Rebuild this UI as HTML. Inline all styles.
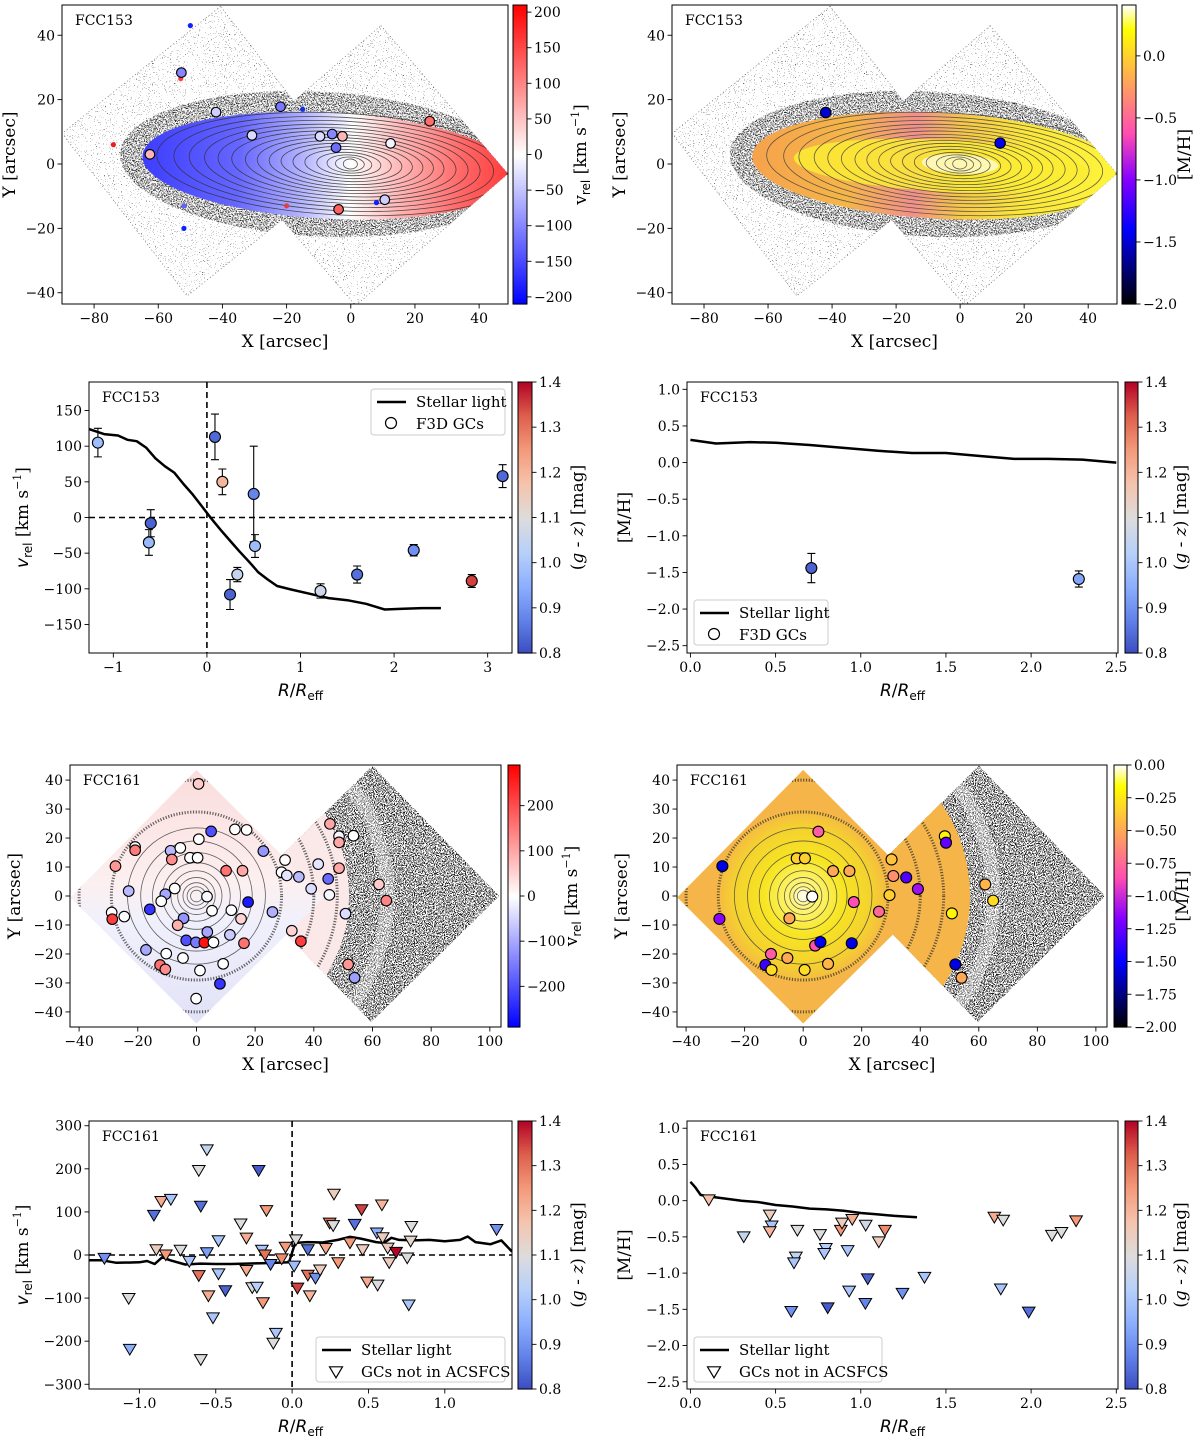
<!DOCTYPE html>
<html><head><meta charset="utf-8"><title>FCC153 / FCC161 GC kinematics</title>
<style>
html,body{margin:0;padding:0;background:#fff;}
svg{display:block;font-family:"DejaVu Serif","Liberation Serif",serif;}
</style></head>
<body>
<svg id="fig" xmlns="http://www.w3.org/2000/svg" width="1200" height="1439" viewBox="0 0 1200 1439">
<defs id="defs">
<filter id="spk-sparse" x="0" y="0" width="1" height="1" color-interpolation-filters="sRGB">
<feTurbulence type="fractalNoise" baseFrequency="0.9" numOctaves="2" seed="4"/>
<feColorMatrix type="matrix" values="0 0 0 0 0.2  0 0 0 0 0.2  0 0 0 0 0.2  -20 0 0 0 6.0"/>
<feComposite in2="SourceAlpha" operator="in"/></filter>
<filter id="spk-mid" x="0" y="0" width="1" height="1" color-interpolation-filters="sRGB">
<feTurbulence type="fractalNoise" baseFrequency="0.9" numOctaves="2" seed="7"/>
<feColorMatrix type="matrix" values="0 0 0 0 0.15  0 0 0 0 0.15  0 0 0 0 0.15  -20 0 0 0 9.6"/>
<feComposite in2="SourceAlpha" operator="in"/></filter>
<filter id="spk-dense" x="0" y="0" width="1" height="1" color-interpolation-filters="sRGB">
<feTurbulence type="fractalNoise" baseFrequency="0.9" numOctaves="2" seed="9"/>
<feColorMatrix type="matrix" values="0 0 0 0 0.12  0 0 0 0 0.12  0 0 0 0 0.12  -20 0 0 0 10.0"/>
<feComposite in2="SourceAlpha" operator="in"/></filter>
</defs>
</svg>
<script>
// ===================== DATA =====================
const gc153X = [-52.8,-42.0,-21.9,-30.8,-62.6,-9.6,-5.8,-2.6,-4.6,12.4,24.6,-3.8,10.6];
const gc153Y = [28.4,16.1,17.8,8.9,3.0,8.6,9.3,8.6,5.1,6.4,13.3,-14.1,-11.1];
const gc153V = [-100,-40,-110,-30,60,-30,-100,60,-120,-10,120,130,-40];
const gc153MhX = [-42,12.5];
const gc153MhY = [16,6.5];
const gc153Mh = [-1.5,-1.45];
const vel153R = [-1.165,-0.60,-0.62,0.086,0.165,0.50,0.514,0.247,0.325,1.214,1.605,2.21,2.83,3.16];
const vel153V = [105,-8,-35,113,50,33,-40,-108,-80,-103,-80,-46,-89,58];
const vel153Err = [20,19,18,32,18,67,16,21,10,10,12,8,9,16];
const vel153Col = [0.98,0.83,0.97,0.84,1.2,0.88,0.98,0.83,1.05,1.07,0.85,0.9,1.35,0.84];
const star153R = [-1.26,-1.1,-0.95,-0.85,-0.75,-0.65,-0.55,-0.45,-0.35,-0.25,-0.15,-0.05,0.05,0.15,0.25,0.35,0.45,0.55,0.65,0.75,0.9,1.1,1.3,1.5,1.7,1.9,2.1,2.3,2.5];
const star153V = [124,117,115,109,107,98,83,72,63,47,32,15,-2,-18,-33,-48,-62,-77,-87,-96,-101,-107,-113,-116,-121,-129,-128,-127,-127];
const mh153R = [0.71,2.28];
const mh153M = [-1.44,-1.59];
const mh153Err = [0.2,0.11];
const mh153Col = [0.83,0.93];
const starMh153R = [0,0.15,0.35,0.5,0.7,0.9,1.1,1.3,1.5,1.7,1.9,2.1,2.3,2.5];
const starMh153M = [0.31,0.26,0.28,0.27,0.24,0.2,0.16,0.13,0.13,0.09,0.05,0.05,0.04,0.0];
const gc161X = [0.7,13.1,17.1,5.0,0.8,22.8,-20.9,-20.9,-8.8,-5.5,-2.2,0.4,-8.4,-27.6,10.1,15.7,30.2,29.0,30.8,34.9,41.5,44.9,39.1,45.3,48.6,53.5,45.5,48.6,48.6,62.2,64.7,50.8,-7.4,-23.1,-10.6,3.6,-12.0,-15.9,17.6,5.3,11.9,25.9,-28.9,-28.7,-24.6,-4.4,-6.4,15.2,3.7,11.4,-3.5,-0.2,2.7,5.8,16.2,-17.2,-10.3,-4.6,32.5,35.6,9.1,-12.4,-10.6,1.2,8.0,-0.1,51.7,53.9];
const gc161Y = [38.7,23,22.8,22.3,19.6,15.5,16.9,15.8,15.6,16.6,13.2,13.2,12.6,10.3,8.7,8.7,12.4,8.2,7.1,6.6,11.0,5.9,2.5,0.4,20.6,20.8,24.9,18.5,9.6,4.0,-1.6,-6.1,2.6,1.7,0.6,-0.2,-1.8,-4.6,-2.1,-5.1,-4.9,-5.5,-5.7,-8.0,-7.1,-7.7,-10.1,-7.9,-12.4,-13.4,-15.3,-16.0,-16.1,-16.0,-16.3,-18.6,-19.9,-21.4,-12.0,-15.6,-23.4,-23.8,-25.3,-25.7,-30.3,-35.4,-23.6,-28.2];
const gc161V = [60,0,0,-200,0,-120,0,150,-80,0,0,0,130,120,160,100,0,0,-30,-80,-30,-170,-40,-10,-10,0,100,100,100,60,140,-40,0,-80,-100,-10,0,-230,-260,0,0,-90,0,220,0,-120,90,50,-100,-60,-200,-150,270,0,160,-100,0,0,50,220,0,160,130,0,-230,0,120,-110];
const gcMh161X = [5.2,-2.2,0.6,-27.6,10.2,15.8,30.2,30.8,35.2,39.2,48.4,48.8,29.5,3.1,17.3,25.9,-28.6,-4.7,50.8,62.2,64.9,4.1,5.9,16.6,-11.0,-5.4,-12.9,-10.8,0.5,8.5,52.0,54.1];
const gcMh161Y = [22.2,13.0,13.0,10.3,8.6,8.6,12.6,6.9,6.4,2.4,20.6,18.4,0.3,-0.2,-2.1,-5.4,-7.9,-7.7,-6.0,4.0,-1.6,-17.1,-15.9,-16.3,-20.0,-21.4,-23.8,-25.5,-25.5,-23.4,-23.6,-28.2];
const gcMh161 = [-0.8,-0.35,-0.35,-1.55,-0.5,-0.5,-0.4,-0.6,-1.3,-1.1,-0.2,-1.25,-0.35,0.0,-0.85,-0.75,-1.15,-0.5,-0.2,-0.45,-0.3,-0.85,-1.5,-1.55,-0.8,-0.5,-1.35,-0.3,-0.3,-0.45,-1.55,-0.5];
const vel161R = [-1.229,-1.07,-1.063,-0.905,-0.889,-0.857,-0.794,-0.827,-0.731,-0.673,-0.611,-0.558,-0.598,-0.611,-0.558,-0.548,-0.518,-0.598,-0.482,-0.482,-0.437,-0.337,-0.299,-0.299,-0.261,-0.231,-0.219,-0.168,-0.198,-0.178,-0.141,-0.191,-0.106,-0.123,-0.043,-0.068,0.025,0.013,0.103,0.103,0.035,0.116,0.153,0.183,0.221,0.246,0.274,0.269,0.302,0.379,0.41,0.455,0.462,0.492,0.56,0.555,0.593,0.588,0.626,0.636,0.681,0.754,0.781,0.776,0.764,1.339];
const vel161V = [-8,-101,-219,92,12,124,129,0,11,-15,196,244,113,-48,5,-95,-146,-243,33,-44,-83,72,39,-36,-76,-75,196,103,11,0,-22,-111,-182,-205,18,-9,35,-26,12,-47,-77,-95,-54,-35,15,74,141,68,-18,28,71,105,12,-63,-70,51,40,116,16,-18,6,-7,66,32,-116,59];
const vel161Col = [0.9,1.1,0.95,0.85,1.15,1.22,1.0,1.25,1.1,1.0,1.1,1.05,0.85,1.3,0.92,1.22,1.0,1.1,1.0,1.0,0.83,1.1,1.22,1.22,1.1,1.03,0.82,1.25,1.0,1.3,0.88,1.25,1.0,1.1,1.25,1.27,1.1,0.98,0.85,1.3,1.35,1.2,0.9,1.15,1.22,1.3,1.15,1.1,1.25,1.25,0.85,1.35,1.15,1.22,1.1,0.95,1.15,1.2,1.15,1.15,1.4,1.1,1.1,1.12,1.0,0.9];
const star161R = [-1.33,-1.25,-1.15,-1.0,-0.95,-0.9,-0.85,-0.8,-0.7,-0.6,-0.5,-0.4,-0.3,-0.2,-0.1,-0.02,0.02,0.1,0.2,0.3,0.38,0.45,0.55,0.6,0.65,0.7,0.8,0.9,1.0,1.1,1.15,1.2,1.3,1.37,1.44];
const star161V = [-12,-12,-18,-17,-14,-21,-5,-12,-22,-20,-21,-21,-20,-19,-18,-17,28,30,29,35,42,38,30,28,40,35,34,35,32,35,43,30,25,34,8];
const mh161R = [0.108,0.313,0.466,0.477,0.466,0.628,0.619,0.608,0.592,0.761,0.795,0.786,0.806,0.883,0.89,0.95,0.923,0.932,1.029,1.041,1.027,1.106,1.142,1.245,1.374,1.784,1.836,1.822,1.986,2.122,2.178,2.264];
const mh161M = [0.01,-0.5,-0.2,-0.35,-0.43,-0.41,-0.78,-0.86,-1.53,-0.47,-0.66,-0.73,-1.48,-0.41,-0.31,-0.26,-0.69,-1.25,-0.34,-1.08,-1.42,-0.57,-0.41,-1.28,-1.06,-0.23,-0.27,-1.22,-1.54,-0.48,-0.44,-0.28];
const mh161Col = [1.18,1.05,1.15,1.0,1.2,1.1,1.05,1.0,0.9,1.1,1.02,1.0,0.82,1.25,1.15,1.22,1.0,1.0,1.07,0.83,0.88,1.15,1.27,0.9,1.0,1.22,1.1,1.0,0.85,1.1,1.1,1.25];
const starMh161R = [0,0.03,0.06,0.1,0.2,0.3,0.4,0.5,0.6,0.7,0.8,0.9,1.0,1.1,1.2,1.33];
const starMh161M = [0.26,0.18,0.08,0.06,0.03,0.0,-0.02,-0.06,-0.08,-0.11,-0.12,-0.14,-0.17,-0.19,-0.21,-0.23];
const mapXTicks153 = [-80,-60,-40,-20,0,20,40];
const mapYTicks153 = [-40,-20,0,20,40];
const mapXTicks161 = [-40,-20,0,20,40,60,80,100];
const mapYTicks161 = [-40,-30,-20,-10,0,10,20,30,40];
const velCbarTicks153 = [-200,-150,-100,-50,0,50,100,150,200];
const velCbarTicks161 = [-200,-100,0,100,200];
const mhCbarTicks153 = [-2.0,-1.5,-1.0,-0.5,0.0];
const mhCbarTicks161 = [-2.0,-1.75,-1.5,-1.25,-1.0,-0.75,-0.5,-0.25,0.0];
const colCbarTicks = [0.8,0.9,1.0,1.1,1.2,1.3,1.4];
const vel153XTicks = [-1,0,1,2,3];
const vel153YTicks = [-150,-100,-50,0,50,100,150];
const mhXTicks = [0,0.5,1.0,1.5,2.0,2.5];
const mhYTicks = [-2.5,-2.0,-1.5,-1.0,-0.5,0.0,0.5,1.0];
const vel161XTicks = [-1.0,-0.5,0.0,0.5,1.0];
const vel161YTicks = [-300,-200,-100,0,100,200,300];

// ===================== HELPERS =====================
const NS='http://www.w3.org/2000/svg';
const svg=document.getElementById('fig');
const defs=document.getElementById('defs');
function mk(tag,attrs,parent){const e=document.createElementNS(NS,tag);for(const k in attrs)e.setAttribute(k,attrs[k]);(parent||svg).appendChild(e);return e;}
function lin(d0,d1,r0,r1){return v=>r0+(v-d0)/(d1-d0)*(r1-r0);}
function fmt(v,d){const s=Math.abs(v).toFixed(d);return (v<0&&parseFloat(s)!==0?'\u2212':'')+s;}
function cl(v){return Math.max(0,Math.min(1,v));}
function rgb(a){return 'rgb('+a.map(x=>Math.round(cl(x)*255)).join(',')+')';}
function bwr(t){t=cl(t);return t<0.5?rgb([2*t,2*t,1]):rgb([1,2*(1-t),2*(1-t)]);}
const cwStops=[[59,76,192],[98,130,234],[141,176,254],[184,208,249],[221,220,220],[245,196,173],[244,154,123],[222,96,77],[180,4,38]];
function coolwarm(t){t=cl(t);const f=t*8,i=Math.min(7,Math.floor(f)),u=f-i;const a=cwStops[i],b=cwStops[i+1];return 'rgb('+[0,1,2].map(k=>Math.round(a[k]+(b[k]-a[k])*u)).join(',')+')';}
function pw(pts,t){for(let i=0;i<pts.length-1;i++){if(t<=pts[i+1][0]){const u=(t-pts[i][0])/(pts[i+1][0]-pts[i][0]);return pts[i][1]+(pts[i+1][1]-pts[i][1])*u;}}return pts[pts.length-1][1];}
function gnuplot2(t){t=cl(t);return rgb([t/0.32-0.78125,2*t-0.84,pw([[0,0],[0.25,1],[0.42,1],[0.92,0],[1,1]],t)]);}

function axes(p){
  const g=mk('g',{});
  
  
  const sx=lin(p.xd[0],p.xd[1],p.x0,p.x1), sy=lin(p.yd[0],p.yd[1],p.y1,p.y0);
  const cp=mk('clipPath',{id:p.name+'-clip'},defs);
  mk('rect',{x:p.x0,y:p.y0,width:p.x1-p.x0,height:p.y1-p.y0},cp);
  const plot=mk('g',{'clip-path':'url(#'+p.name+'-clip)'},g);
  
  
  return {g,plot,sx,sy,p};
}
function frame(A){
  const p=A.p,g=A.g;
  const r=mk('rect',{x:p.x0,y:p.y0,width:p.x1-p.x0,height:p.y1-p.y0,fill:'none',stroke:'#000','stroke-width':1},g);
  
  
  const xt=mk('g',{'font-size':14,'text-anchor':'middle'},g);
  
  
  p.xticks.forEach(v=>{const x=A.sx(v);mk('line',{x1:x,x2:x,y1:p.y1,y2:p.y1+4.5,stroke:'#000','stroke-width':0.9},xt);const t=mk('text',{x:x,y:p.y1+19},xt);t.textContent=fmt(v,p.xdec);});
  const yt=mk('g',{'font-size':14,'text-anchor':'end'},g);
  
  
  p.yticks.forEach(v=>{const y=A.sy(v);mk('line',{x1:p.x0-4.5,x2:p.x0,y1:y,y2:y,stroke:'#000','stroke-width':0.9},yt);const t=mk('text',{x:p.x0-7,y:y+5},yt);t.textContent=fmt(v,p.ydec);});
  const xl=mk('text',{x:(p.x0+p.x1)/2,y:p.y1+43,'font-size':17,'text-anchor':'middle'},g);
  
  
  xl.innerHTML=p.xlabel;
  const yl=mk('text',{x:p.ylx,y:(p.y0+p.y1)/2,'font-size':17,'text-anchor':'middle',transform:'rotate(-90 '+p.ylx+' '+((p.y0+p.y1)/2)+')'},g);
  
  
  yl.innerHTML=p.ylabel;
  const nm=mk('text',{x:p.x0+13,y:p.y0+20,'font-size':14},g);
  
  
  nm.textContent=p.title;
}
function cbar(name,x0,x1,y0,y1,dmin,dmax,cmap,ticks,dec,labelX,label){
  const g=mk('g',{});
  
  
  const n=120,h=(y1-y0)/n;
  for(let i=0;i<n;i++){mk('rect',{x:x0,y:y1-(i+1)*h,width:x1-x0,height:h+0.6,fill:cmap((i+0.5)/n),stroke:'none'},g);}
  mk('rect',{x:x0,y:y0,width:x1-x0,height:y1-y0,fill:'none',stroke:'#000','stroke-width':1},g);
  const s=lin(dmin,dmax,y1,y0);
  ticks.forEach(v=>{const y=s(v);mk('line',{x1:x1,x2:x1+4.5,y1:y,y2:y,stroke:'#000','stroke-width':0.9},g);const t=mk('text',{x:x1+7,y:y+5,'font-size':14},g);t.textContent=fmt(v,dec);});
  const cy=(y0+y1)/2;
  const l=mk('text',{x:labelX,y:cy,'font-size':17,'text-anchor':'middle',transform:'rotate(-90 '+labelX+' '+cy+')'},g);
  
  
  l.innerHTML=label;
}
function legend(x,y,w,h,marker){
  const g=mk('g',{});
  
  
  mk('rect',{x:x,y:y,width:w,height:h,rx:3,fill:'#fff','fill-opacity':0.85,stroke:'#ccc','stroke-width':1},g);
  const l=mk('line',{x1:x+6,x2:x+35,y1:y+13,y2:y+13,stroke:'#000','stroke-width':2.5},g);
  
  
  const t1=mk('text',{x:x+45,y:y+18,'font-size':15},g);t1.textContent='Stellar light';
  if(marker==='circle'){const c=mk('circle',{cx:x+20,cy:y+34,r:5.5,fill:'#fff',stroke:'#000','stroke-width':1.2},g);
    
    }
  else{const c=mk('path',{d:tri(x+20,y+35,6.5),fill:'#fff',stroke:'#000','stroke-width':1.2},g);
    
    }
  const t2=mk('text',{x:x+45,y:y+40,'font-size':15},g);t2.textContent=(marker==='circle'?'F3D GCs':'GCs not in ACSFCS');
}
function tri(cx,cy,s){return 'M'+(cx-s)+','+(cy-s*0.8)+' L'+(cx+s)+','+(cy-s*0.8)+' L'+cx+','+(cy+s*0.9)+' Z';}
function lineFrom(A,xs,ys,name){
  const d=xs.map((x,i)=>(i?'L':'M')+A.sx(x).toFixed(1)+','+A.sy(ys[i]).toFixed(1)).join(' ');
  const pth=mk('path',{d:d,fill:'none',stroke:'#000','stroke-width':2.5,'stroke-linejoin':'round'},A.plot);
  
  
}
function dashes(A,hz,vt){
  if(hz){const l=mk('line',{x1:A.p.x0,x2:A.p.x1,y1:A.sy(0),y2:A.sy(0),stroke:'#000','stroke-width':1.6,'stroke-dasharray':'6 4'},A.plot);
    
    }
  if(vt){const l=mk('line',{x1:A.sx(0),x2:A.sx(0),y1:A.p.y0,y2:A.p.y1,stroke:'#000','stroke-width':1.6,'stroke-dasharray':'6 4'},A.plot);
    
    }
}
function poly(A,pts,attrs,parent){return mk('polygon',Object.assign({points:pts.map(q=>A.sx(q[0]).toFixed(1)+','+A.sy(q[1]).toFixed(1)).join(' ')},attrs),parent||A.plot);}
function ell(A,cx,cy,rx,ry,rot,attrs,parent){const X=A.sx(cx),Y=A.sy(cy);const kx=Math.abs(A.sx(1)-A.sx(0)),ky=Math.abs(A.sy(1)-A.sy(0));
  return mk('ellipse',Object.assign({cx:X,cy:Y,rx:rx*kx,ry:ry*ky,transform:'rotate('+rot+' '+X+' '+Y+')'},attrs),parent||A.plot);}
function gcDot(parent,x,y,r,fill,name){const c=mk('circle',{cx:x,cy:y,r:r,fill:fill,stroke:'#000','stroke-width':1.1},parent);
  
  
  return c;}

// ===================== FCC153 MAPS =====================
const sq153L=[[-40.6,49],[-90,9.5],[-51,-41],[-1.5,-1.5]];
const sq153R=[[9.4,43],[49,-3],[1.5,-44],[-38,2]];
function map153(name,x0,x1,colorMode){
  const A=axes({name:name,x0:x0,x1:x1,y0:5,y1:304,xd:[-90,49],yd:[-43.5,49.4],xticks:mapXTicks153,yticks:mapYTicks153,xdec:0,ydec:0,
    xlabel:'X [arcsec]',ylabel:'Y [arcsec]',ylx:x0-47,title:'FCC153'});
  const uid=name+'-sq';
  const cp=mk('clipPath',{id:uid},defs);poly(A,sq153L,{},cp);poly(A,sq153R,{},cp);
  [sq153L,sq153R].forEach((s,i)=>{const w=poly(A,s,{fill:'#fff',stroke:'#666','stroke-width':0.7,'stroke-dasharray':'1 2.5'});
    
    
    poly(A,s,{fill:'#000',filter:'url(#spk-sparse)'});});
  const gal=mk('g',{'clip-path':'url(#'+uid+')'},A.plot);
  
  
  ell(A,-10,0,62,22.5,3,{fill:'#fff'},gal);
  ell(A,-10,0,62,22.5,3,{fill:'#000',filter:'url(#spk-mid)'},gal);
  const gid=name+'-grad';
  const lg=mk('linearGradient',{id:gid,gradientUnits:'userSpaceOnUse',x1:A.sx(-65),x2:A.sx(49),y1:0,y2:0},defs);
  let stops;
  if(colorMode==='vel'){stops=[[-65,bwr(0.12)],[-35,bwr(0.2)],[-15,bwr(0.35)],[0,bwr(0.5)],[15,bwr(0.64)],[35,bwr(0.8)],[49,bwr(0.88)]];}
  else{stops=[[-65,'#f6a24c'],[-35,'#f5b648'],[-14,'#f2908a'],[0,'#f6c54a'],[20,'#fbe73a'],[49,'#fff43a']];}
  stops.forEach(s=>mk('stop',{offset:((s[0]+65)/114).toFixed(3),'stop-color':s[1]},lg));
  ell(A,-7,-0.5,58,16.5,3,{fill:'url(#'+gid+')'},gal);
  if(colorMode==='mh'){ell(A,-6,-0.5,46,8,3,{fill:'#fbec34','fill-opacity':0.85},gal);ell(A,0,0,12,3,3,{fill:'#fffbd0','fill-opacity':0.8},gal);}
  const cont=mk('g',{fill:'none',stroke:colorMode==='vel'?'#333':'#444','stroke-width':0.8,'stroke-opacity':0.85},gal);
  
  
  [57,52,47.5,43,39,35,31,27.5,24,20.5,17,13.5,10,7,4.5,2.2].forEach(r=>ell(A,-3.5*(r/57),0,r,1+r*0.26,3,{},cont));
  return A;
}
const A1=map153('fcc153-velocity-map',62,508,'vel');
[[-50,43,'#1020ff'],[-52,-20,'#1020ff'],[-52,-13,'#6060ff'],[8,-12,'#1020ff'],[-15,17,'#1530e0'],[-74,6,'#e82020'],[-20,-13,'#e04040'],[-53,26.5,'#ff4040']].forEach(b=>{
  const c=mk('circle',{cx:A1.sx(b[0]),cy:A1.sy(b[1]),r:2.6,fill:b[2]},A1.plot);
  
  });
gc153X.forEach((x,i)=>gcDot(A1.plot,A1.sx(x),A1.sy(gc153Y[i]),4.8,bwr((gc153V[i]+210)/420),'gc-velocity-marker'));
frame(A1);
cbar('velocity-colorbar-fcc153',513,527,5,304,-210,210,bwr,velCbarTicks153,0,586,
 'v<tspan font-size="12" dy="4" font-family="DejaVu Sans">rel</tspan><tspan dy="-4"> [km s</tspan><tspan font-size="11" dy="-7">\u22121</tspan><tspan dy="7">]</tspan>');

const A2=map153('fcc153-metallicity-map',672,1117,'mh');
gc153MhX.forEach((x,i)=>gcDot(A2.plot,A2.sx(x),A2.sy(gc153MhY[i]),5.2,gnuplot2((gc153Mh[i]+2)/2.41),'gc-metallicity-marker'));
frame(A2);
cbar('metallicity-colorbar-fcc153',1122,1136,5,304,-2.0,0.41,gnuplot2,mhCbarTicks153,1,1190,'[M/H]');

// ===================== FCC153 PROFILES =====================
const ggzLabel='(<tspan font-style="italic">g</tspan> - <tspan font-style="italic">z</tspan>) [mag]';
const rLabel='<tspan font-style="italic" font-family="DejaVu Sans">R</tspan><tspan font-family="DejaVu Sans">/</tspan><tspan font-style="italic" font-family="DejaVu Sans">R</tspan><tspan font-size="12" dy="4" font-family="DejaVu Sans">eff</tspan>';
const vLabel='<tspan font-style="italic" font-family="DejaVu Sans">v</tspan><tspan font-size="12" dy="4" font-family="DejaVu Sans">rel</tspan><tspan dy="-4"> [km s</tspan><tspan font-size="11" dy="-7">\u22121</tspan><tspan dy="7">]</tspan>';

const A3=axes({name:'fcc153-velocity-profile',x0:89,x1:512,y0:382,y1:653,xd:[-1.26,3.26],yd:[-190,190],xticks:vel153XTicks,yticks:vel153YTicks,xdec:0,ydec:0,
  xlabel:rLabel,ylabel:vLabel,ylx:28,title:'FCC153'});
dashes(A3,true,true);
lineFrom(A3,star153R,star153V,'stellar-velocity-curve');
vel153R.forEach((r,i)=>{const x=A3.sx(r),e0=A3.sy(vel153V[i]-vel153Err[i]),e1=A3.sy(vel153V[i]+vel153Err[i]);
  const eb=mk('path',{d:'M'+x+','+e0+' L'+x+','+e1+' M'+(x-4)+','+e0+' L'+(x+4)+','+e0+' M'+(x-4)+','+e1+' L'+(x+4)+','+e1,stroke:'#000','stroke-width':1.1,fill:'none'},A3.plot);
  
  });
vel153R.forEach((r,i)=>gcDot(A3.plot,A3.sx(r),A3.sy(vel153V[i]),5.5,coolwarm((vel153Col[i]-0.8)/0.6),'gc-velocity-point'));
frame(A3);
legend(371,389,134,46,'circle');
cbar('color-colorbar-fcc153-velocity',518,532,382,653,0.8,1.4,coolwarm,colCbarTicks,1,583,ggzLabel);

const A4=axes({name:'fcc153-metallicity-profile',x0:687,x1:1118,y0:382,y1:653,xd:[-0.02,2.51],yd:[-2.6,1.1],xticks:mhXTicks,yticks:mhYTicks,xdec:1,ydec:1,
  xlabel:rLabel,ylabel:'[M/H]',ylx:630,title:'FCC153'});
lineFrom(A4,starMh153R,starMh153M,'stellar-metallicity-curve');
mh153R.forEach((r,i)=>{const x=A4.sx(r),e0=A4.sy(mh153M[i]-mh153Err[i]),e1=A4.sy(mh153M[i]+mh153Err[i]);
  const eb=mk('path',{d:'M'+x+','+e0+' L'+x+','+e1+' M'+(x-4)+','+e0+' L'+(x+4)+','+e0+' M'+(x-4)+','+e1+' L'+(x+4)+','+e1,stroke:'#000','stroke-width':1.1,fill:'none'},A4.plot);
  
  });
mh153R.forEach((r,i)=>gcDot(A4.plot,A4.sx(r),A4.sy(mh153M[i]),5.5,coolwarm((mh153Col[i]-0.8)/0.6),'gc-metallicity-point'));
frame(A4);
legend(694,600,134,45,'circle');
cbar('color-colorbar-fcc153-metallicity',1125,1138,382,653,0.8,1.4,coolwarm,colCbarTicks,1,1186,ggzLabel);

// ===================== FCC161 MAPS =====================
const sq161L=[[0,43.5],[-43,-0.5],[0,-44],[43.5,-0.5]];
const sq161R=[[60,45],[103.2,0],[59.6,-43.5],[16.5,1.5]];
function map161(name,x0,x1,mode){
  const A=axes({name:name,x0:x0,x1:x1,y0:765,y1:1027,xd:[-43.1,103.8],yd:[-45.2,45.2],xticks:mapXTicks161,yticks:mapYTicks161,xdec:0,ydec:0,
    xlabel:'X [arcsec]',ylabel:'Y [arcsec]',ylx:x0-50,title:'FCC161'});
  const lgid=name+'-lg';
  const lg=mk('linearGradient',{id:lgid,x1:0,y1:0,x2:0,y2:1},defs);
  if(mode==='vel'){[[0,'#fbdcdc'],[0.45,'#fcf0f0'],[0.6,'#f0f0fc'],[1,'#e2e2f8']].forEach(s=>mk('stop',{offset:s[0],'stop-color':s[1]},lg));}
  else{[[0,'#f6b548'],[1,'#f6b548']].forEach(s=>mk('stop',{offset:s[0],'stop-color':s[1]},lg));}
  const rb=poly(A,sq161R,{fill:'#fff'});
  
  
  poly(A,sq161R,{fill:'#000',filter:'url(#spk-dense)'});
  const cpR=mk('clipPath',{id:name+'-cr'},defs);poly(A,sq161R,{},cpR);
  const gR=mk('g',{'clip-path':'url(#'+name+'-cr)'},A.plot);
  ell(A,0,0,65,65,0,{fill:'none',stroke:'#fff','stroke-width':14,'stroke-opacity':0.35},gR);
  const inner=mode==='vel'?52:57;
  ell(A,0,0,inner,inner,0,{fill:mode==='vel'?'#fbe8e8':'#f5b548'},gR);
  const lb=poly(A,sq161L,{fill:'url(#'+lgid+')'});
  
  
  if(mode==='mh'){
    const rg=mk('radialGradient',{id:name+'-rg',gradientUnits:'userSpaceOnUse',cx:A.sx(0),cy:A.sy(0),r:A.sx(30)-A.sx(0)},defs);
    [[0,'#ffffff'],[0.12,'#fff680'],[0.45,'#f7e522'],[0.8,'#f4d030'],[1,'#f6b548']].forEach(s=>mk('stop',{offset:s[0],'stop-color':s[1]},rg));
    ell(A,0,0,30,30,0,{fill:'url(#'+name+'-rg)'});
  }
  const cpU=mk('clipPath',{id:name+'-cu'},defs);poly(A,sq161L,{},cpU);poly(A,sq161R,{},cpU);
  const gU=mk('g',{'clip-path':'url(#'+name+'-cu)'},A.plot);
  
  
  [29,40,48].forEach(r=>ell(A,0,0,r,r,0,{fill:'none',stroke:'#333','stroke-width':3,'stroke-dasharray':'1.2 1.6','stroke-opacity':0.75},gU));
  const cont=mk('g',{fill:'none',stroke:'#444','stroke-width':0.8,'stroke-opacity':0.85},gU);
  
  
  [2,3.2,4.6,6.4,8.7,11.5,15,19,23.5].forEach(r=>ell(A,0,0,r,r,0,{},cont));
  return A;
}
const A5=map161('fcc161-velocity-map',70,501,'vel');
gc161X.forEach((x,i)=>gcDot(A5.plot,A5.sx(x),A5.sy(gc161Y[i]),5.3,bwr((gc161V[i]+290)/580),'gc-velocity-marker'));
frame(A5);
cbar('velocity-colorbar-fcc161',508,520,765,1027,-290,290,bwr,velCbarTicks161,0,577,
 'v<tspan font-size="12" dy="4" font-family="DejaVu Sans">rel</tspan><tspan dy="-4"> [km s</tspan><tspan font-size="11" dy="-7">\u22121</tspan><tspan dy="7">]</tspan>');

const A6=map161('fcc161-metallicity-map',677,1107,'mh');
gcMh161X.forEach((x,i)=>gcDot(A6.plot,A6.sx(x),A6.sy(gcMh161Y[i]),5.5,gnuplot2((gcMh161[i]+2)/2),'gc-metallicity-marker'));
frame(A6);
cbar('metallicity-colorbar-fcc161',1114,1127,765,1027,-2,0,gnuplot2,mhCbarTicks161,2,1188,'[M/H]');

// ===================== FCC161 PROFILES =====================
const A7=axes({name:'fcc161-velocity-profile',x0:89,x1:512,y0:1121,y1:1389,xd:[-1.33,1.44],yd:[-311,311],xticks:vel161XTicks,yticks:vel161YTicks,xdec:1,ydec:0,
  xlabel:rLabel,ylabel:vLabel,ylx:28,title:'FCC161'});
dashes(A7,true,true);
lineFrom(A7,star161R,star161V,'stellar-velocity-curve');
vel161R.forEach((r,i)=>{const t=mk('path',{d:tri(A7.sx(r),A7.sy(vel161V[i]),6.3),fill:coolwarm((vel161Col[i]-0.8)/0.6),stroke:'#000','stroke-width':1},A7.plot);
  
  });
frame(A7);
legend(316,1337,189,45,'tri');
cbar('color-colorbar-fcc161-velocity',518,532,1121,1389,0.8,1.4,coolwarm,colCbarTicks,1,583,ggzLabel);

const A8=axes({name:'fcc161-metallicity-profile',x0:687,x1:1118,y0:1121,y1:1389,xd:[-0.02,2.51],yd:[-2.6,1.1],xticks:mhXTicks,yticks:mhYTicks,xdec:1,ydec:1,
  xlabel:rLabel,ylabel:'[M/H]',ylx:630,title:'FCC161'});
lineFrom(A8,starMh161R,starMh161M,'stellar-metallicity-curve');
mh161R.forEach((r,i)=>{const t=mk('path',{d:tri(A8.sx(r),A8.sy(mh161M[i]),6.3),fill:coolwarm((mh161Col[i]-0.8)/0.6),stroke:'#000','stroke-width':1},A8.plot);
  
  });
frame(A8);
legend(694,1337,188,45,'tri');
cbar('color-colorbar-fcc161-metallicity',1125,1138,1121,1389,0.8,1.4,coolwarm,colCbarTicks,1,1186,ggzLabel);
</script>
</body></html>
